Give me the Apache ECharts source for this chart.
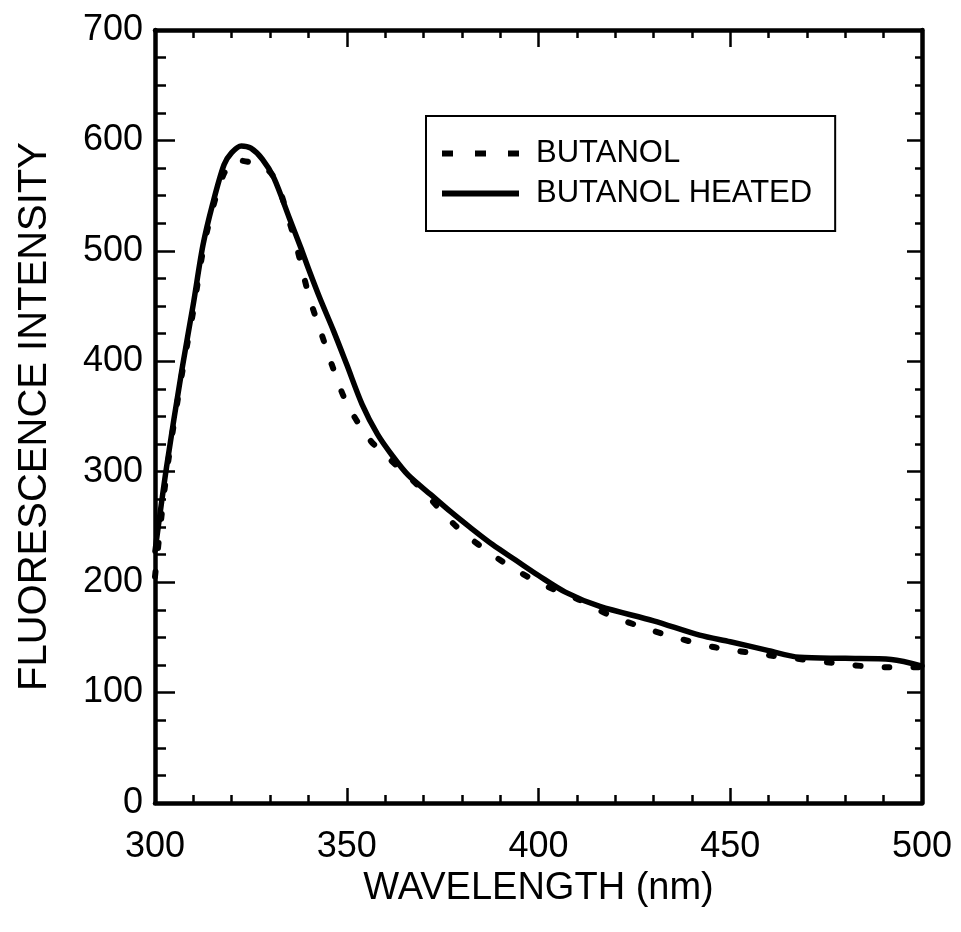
<!DOCTYPE html>
<html>
<head>
<meta charset="utf-8">
<script src="https://cdn.jsdelivr.net/npm/echarts@6/dist/echarts.min.js"></script>
<style>
html,body{margin:0;padding:0;background:#fff;}
#chart{width:961px;height:932px;}
</style>
</head>
<body>
<div id="chart"></div>
<script>
// ---- data ----
var xTicks = [300, 350, 400, 450, 500];
var yTicks = [0, 100, 200, 300, 400, 500, 600, 700];
var seriesNames = ['BUTANOL', 'BUTANOL HEATED'];

var butanolWavelength = [300, 303, 307, 310, 312.5, 315, 318, 321, 325, 329.5, 332, 335, 337, 338.6, 340.4, 343.3, 346.1, 350, 356, 360.4, 369, 378.7, 390, 400.4, 410, 418.6, 429, 437.7, 446, 459.6, 476.5, 484.6, 490.9, 500];
var butanolValues     = [205, 298, 388, 446, 500, 538, 570, 582, 580, 573, 560, 527, 503, 480, 456, 426, 397, 362, 329, 314, 286, 250, 220, 199, 185, 170, 157, 148, 141, 134, 127, 124, 123, 123];

var heatedWavelength = [300, 303, 307, 310, 312.5, 315, 318, 320, 322.5, 325, 328, 331, 335, 338, 340, 343, 346.5, 350, 354, 358, 362, 366, 372, 377, 382, 388, 394, 400, 407, 416, 430, 442, 450, 460, 468, 480, 492, 500];
var heatedValues     = [228, 304, 392, 452, 505, 542, 578, 589, 595, 593, 583, 566, 530, 503, 484, 457, 428, 397, 361, 334, 314, 297, 279, 264, 250, 234, 220, 206, 191, 178, 165, 152, 146, 138, 132, 131, 130, 124];

function pairs(xs, ys) { return xs.map(function (x, i) { return [x, ys[i]]; }); }

var FONT = '"Liberation Sans", Arial, Helvetica, sans-serif';
var chart = echarts.init(document.getElementById('chart'), null, {renderer: 'canvas'});

function xAxisDef(pos, showLabels) {
  return {
    type: 'value', position: pos, min: xTicks[0], max: xTicks[xTicks.length - 1], interval: 50,
    axisLine: {show: true, onZero: false, lineStyle: {color: '#000', width: 4.5}},
    axisTick: {show: true, inside: true, length: pos === 'bottom' ? 15 : 17, lineStyle: {color: '#000', width: 2.5}},
    minorTick: {show: true, splitNumber: 5, length: 8, lineStyle: {color: '#000', width: 2.5}},
    splitLine: {show: false}, minorSplitLine: {show: false},
    axisLabel: {show: showLabels, color: '#000', fontSize: 36, fontFamily: FONT, margin: 26},
    name: showLabels ? 'WAVELENGTH (nm)' : '', nameLocation: 'middle', nameGap: 63,
    nameTextStyle: {color: '#000', fontSize: 38, fontFamily: FONT}
  };
}
function yAxisDef(pos, showLabels) {
  return {
    type: 'value', position: pos, min: yTicks[0], max: yTicks[yTicks.length - 1], interval: 100,
    axisLine: {show: true, onZero: false, lineStyle: {color: '#000', width: 4.5}},
    axisTick: {show: true, inside: true, length: pos === 'left' ? 20 : 15, lineStyle: {color: '#000', width: 2.5}},
    minorTick: {show: true, splitNumber: 4, length: pos === 'left' ? 11 : 7, lineStyle: {color: '#000', width: 2.5}},
    splitLine: {show: false}, minorSplitLine: {show: false},
    axisLabel: {show: showLabels, color: '#000', fontSize: 36, fontFamily: FONT, margin: 12},
    name: showLabels ? 'FLUORESCENCE INTENSITY' : '', nameLocation: 'middle', nameGap: 100,
    nameTextStyle: {color: '#000', fontSize: 40, fontFamily: FONT}
  };
}

chart.setOption({
  animation: false,
  backgroundColor: '#fff',
  grid: {left: 155, right: 39, top: 30, bottom: 129, containLabel: false},
  xAxis: [xAxisDef('bottom', true), xAxisDef('top', false)],
  yAxis: [yAxisDef('left', true), yAxisDef('right', false)],
  legend: {
    orient: 'vertical', left: 426, top: 116,
    data: [
      {name: seriesNames[0], icon: 'path://M0,0h11v6h-11z M33,0h11v6h-11z M66,0h11v6h-11z'},
      {name: seriesNames[1], icon: 'path://M0,0h77v6h-77z'}
    ],
    backgroundColor: '#fff', borderColor: '#000', borderWidth: 2, borderRadius: 0,
    padding: [22, 23, 22, 16], itemGap: 9,
    itemWidth: 77, itemHeight: 6,
    itemStyle: {color: '#000', borderWidth: 0},
    formatter: function (n) { return '{t|' + n + '}'; },
    textStyle: {color: '#000', fontSize: 31, fontFamily: FONT,
      rich: {t: {fontSize: 31, lineHeight: 33, fontFamily: FONT, color: '#000', padding: [0, 0, 0, 12]}}}
  },
  series: [
    {
      name: seriesNames[1], type: 'line', xAxisIndex: 0, yAxisIndex: 0,
      data: pairs(heatedWavelength, heatedValues),
      smooth: 0.3, showSymbol: false, symbol: 'none', z: 3,
      lineStyle: {color: '#000', width: 5.5, cap: 'round', join: 'round'},
      itemStyle: {color: '#000'}
    },
    {
      name: seriesNames[0], type: 'line', xAxisIndex: 0, yAxisIndex: 0,
      data: pairs(butanolWavelength, butanolValues),
      smooth: 0.3, showSymbol: false, symbol: 'none', z: 4,
      lineStyle: {color: '#000', width: 6, type: [5, 24], cap: 'round', join: 'round'},
      itemStyle: {color: '#000'}
    }
  ]
});
</script>
</body>
</html>
